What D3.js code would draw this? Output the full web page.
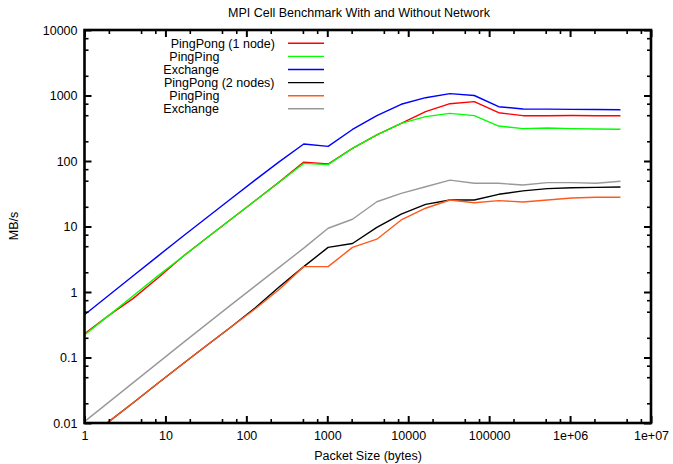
<!DOCTYPE html>
<html>
<head>
<meta charset="utf-8">
<script src="https://cdn.jsdelivr.net/npm/d3@7"></script>
<style>
  html, body { margin: 0; padding: 0; background: #fff; }
  svg { display: block; }
  text { font-family: "Liberation Sans", Arial, sans-serif; fill: #000; }
</style>
</head>
<body>
<svg id="chart" width="673" height="464"></svg>
<script>
// ---- data ----
const packetSizes = [1, 2, 4, 8, 16, 32, 64, 128, 256, 512, 1024, 2048, 4096, 8192, 16384,
  32768, 65536, 131072, 262144, 524288, 1048576, 2097152, 4194304];

const pingPong1 = [0.23, 0.44, 0.8, 1.62, 3.4, 6.6, 12.8, 24.7, 48, 96, 90, 156, 250, 376, 566,
  750, 805, 546, 492, 492, 495, 492, 492];
const pingPing1 = [0.22, 0.44, 0.875, 1.75, 3.4, 6.6, 12.8, 24.7, 47.8, 92, 88, 156, 250, 376, 475,
  534, 492, 342, 312, 319, 312, 308, 305];
const exchange1 = [0.45, 0.89, 1.77, 3.5, 6.9, 13.5, 26.3, 51, 98, 182, 167, 303, 492, 734, 926,
  1070, 1000, 675, 622, 620, 615, 610, 605];
const pingPong2 = [0.0053, 0.0105, 0.0204, 0.04, 0.078, 0.151, 0.29, 0.57, 1.2, 2.44, 4.8, 5.5, 9.7, 15.4, 21.8,
  25.4, 25.4, 31, 35, 37.8, 39, 39.6, 40];
const pingPing2 = [0.0053, 0.0105, 0.0204, 0.04, 0.078, 0.151, 0.29, 0.55, 1.1, 2.44, 2.44, 4.8, 6.4, 12.6, 19,
  25.4, 23.1, 24.8, 23.7, 25.4, 27.2, 27.9, 27.9];
const exchange2 = [0.0105, 0.0208, 0.0414, 0.082, 0.163, 0.32, 0.63, 1.23, 2.4, 4.67, 9.4, 12.9, 23.9, 32, 40.5,
  51, 45.7, 45.7, 43, 46.8, 46.8, 45.7, 49];

const seriesNames = ["PingPong (1 node)", "PingPing", "Exchange", "PingPong (2 nodes)", "PingPing", "Exchange"];
const seriesValues = [pingPong1, pingPing1, exchange1, pingPong2, pingPing2, exchange2];
const seriesColors = ["#ff0000", "#00ff00", "#0000ff", "#000000", "#ff5a1e", "#999999"];

const xTickValues = [1, 10, 100, 1000, 10000, 100000, 1e6, 1e7];
const xTickLabels = ["1", "10", "100", "1000", "10000", "100000", "1e+06", "1e+07"];
const yTickValues = [0.01, 0.1, 1, 10, 100, 1000, 10000];
const yTickLabels = ["0.01", "0.1", "1", "10", "100", "1000", "10000"];

const titleText = "MPI Cell Benchmark With and Without Network";
const xLabelText = "Packet Size (bytes)";
const yLabelText = "MB/s";

// ---- layout ----
const W = 673, H = 464;
const L = 84.5, R = 651, T = 30, B = 423;
const FS = "12.5px";

const svg = d3.select("#chart");
const x = d3.scaleLog().domain([1, 1e7]).range([L, R]);
const y = d3.scaleLog().domain([0.01, 10000]).range([B, T]);

function minorValues(lo, hi) {
  const out = [];
  for (let d = lo; d < hi; d *= 10) {
    [2, 5, 7.5].forEach(m => out.push(d * m));
  }
  return out;
}
const xMinor = minorValues(1, 1e7);
const yMinor = minorValues(0.01, 10000);

// clip
svg.append("clipPath").attr("id", "plotclip")
  .append("rect").attr("x", L).attr("y", T).attr("width", R - L).attr("height", B - T);

// series
const line = d3.line()
  .x((d, i) => x(packetSizes[i]))
  .y(d => y(d));

const gLines = svg.append("g").attr("clip-path", "url(#plotclip)");
seriesValues.forEach((vals, i) => {
  gLines.append("path")
    .attr("d", line(vals))
    .attr("fill", "none")
    .attr("stroke", seriesColors[i])
    .attr("stroke-width", 1.4)
    .attr("stroke-linejoin", "round");
});

// axes
function styleAxis(g, major) {
  g.select(".domain").remove();
  g.selectAll(".tick line").attr("stroke", "#000").attr("stroke-width", major ? 2 : 1.6);
  g.selectAll(".tick text").style("font-size", FS).attr("fill", "#000");
}
const xFmt = (d) => xTickLabels[xTickValues.indexOf(d)];
const yFmt = (d) => yTickLabels[yTickValues.indexOf(d)];

// bottom
svg.append("g").attr("transform", `translate(0,${B})`)
  .call(d3.axisBottom(x).tickValues(xTickValues).tickFormat(xFmt).tickSize(-7).tickPadding(8))
  .call(g => styleAxis(g, true));
svg.append("g").attr("transform", `translate(0,${B})`)
  .call(d3.axisBottom(x).tickValues(xMinor).tickFormat("").tickSize(-4))
  .call(g => styleAxis(g, false));
// top mirror
svg.append("g").attr("transform", `translate(0,${T})`)
  .call(d3.axisTop(x).tickValues(xTickValues).tickFormat("").tickSize(-7))
  .call(g => styleAxis(g, true));
svg.append("g").attr("transform", `translate(0,${T})`)
  .call(d3.axisTop(x).tickValues(xMinor).tickFormat("").tickSize(-4))
  .call(g => styleAxis(g, false));
// left
svg.append("g").attr("transform", `translate(${L},0)`)
  .call(d3.axisLeft(y).tickValues(yTickValues).tickFormat(yFmt).tickSize(-7).tickPadding(7))
  .call(g => styleAxis(g, true));
svg.append("g").attr("transform", `translate(${L},0)`)
  .call(d3.axisLeft(y).tickValues(yMinor).tickFormat("").tickSize(-4))
  .call(g => styleAxis(g, false));
// right mirror
svg.append("g").attr("transform", `translate(${R},0)`)
  .call(d3.axisRight(y).tickValues(yTickValues).tickFormat("").tickSize(-7))
  .call(g => styleAxis(g, true));
svg.append("g").attr("transform", `translate(${R},0)`)
  .call(d3.axisRight(y).tickValues(yMinor).tickFormat("").tickSize(-4))
  .call(g => styleAxis(g, false));

// border
svg.append("rect")
  .attr("x", L).attr("y", T).attr("width", R - L).attr("height", B - T)
  .attr("fill", "none").attr("stroke", "#000").attr("stroke-width", 2.6);

// legend
const legendTextX = [170.7, 169.3, 163.3, 164, 169.3, 163.3];
const legendY0 = 43.3, legendDY = 13.1;
const legend = svg.append("g");
seriesNames.forEach((name, i) => {
  const yy = legendY0 + i * legendDY;
  legend.append("text")
    .attr("x", legendTextX[i]).attr("y", yy)
    .attr("dy", "0.35em")
    .style("font-size", FS)
    .text(name);
  legend.append("line")
    .attr("x1", 288).attr("x2", 324).attr("y1", yy).attr("y2", yy)
    .attr("stroke", seriesColors[i]).attr("stroke-width", 1.4);
});

// title and axis labels
svg.append("text").attr("x", 359).attr("y", 13).attr("dy", "0.35em")
  .attr("text-anchor", "middle").style("font-size", FS).text(titleText);
svg.append("text").attr("x", 368).attr("y", 456).attr("dy", "0.35em")
  .attr("text-anchor", "middle").style("font-size", FS).text(xLabelText);
svg.append("text")
  .attr("transform", `translate(14,226) rotate(-90)`)
  .attr("dy", "0.35em")
  .attr("text-anchor", "middle").style("font-size", FS).text(yLabelText);
</script>
</body>
</html>
